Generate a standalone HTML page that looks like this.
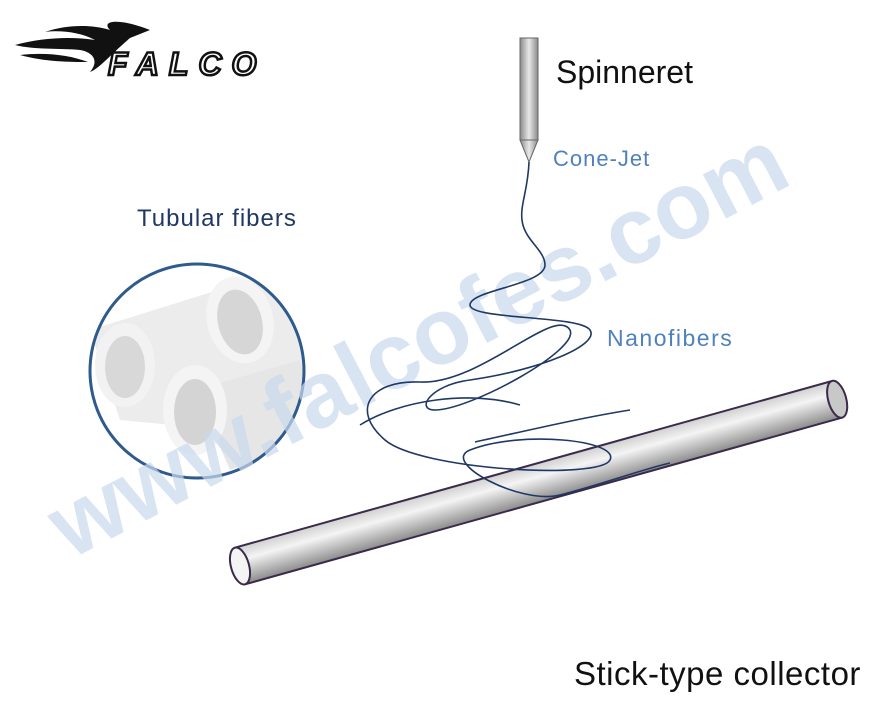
<!DOCTYPE html>
<html><head><meta charset="utf-8"><style>
html,body{margin:0;padding:0;background:#fff;}
body{width:892px;height:712px;position:relative;overflow:hidden;font-family:"Liberation Sans",sans-serif;}
div{white-space:nowrap;}
</style></head><body>
<svg width="892" height="712" viewBox="0 0 892 712" xmlns="http://www.w3.org/2000/svg" style="position:absolute;left:0;top:0">
<defs>
<linearGradient id="sp" x1="0" x2="1"><stop offset="0" stop-color="#8a8a8a"/><stop offset="0.5" stop-color="#e8e8e8"/><stop offset="1" stop-color="#8a8a8a"/></linearGradient>
<linearGradient id="cy" x1="0" y1="0" x2="0" y2="1"><stop offset="0" stop-color="#d0d0d0"/><stop offset="0.35" stop-color="#f4f4f4"/><stop offset="1" stop-color="#8c8c8c"/></linearGradient>
<clipPath id="cc"><circle cx="197" cy="371" r="107"/></clipPath>
</defs>
<!-- logo -->
<g fill="#111">
<path d="M15,45 C40,38 70,36 95,40 C80,32 60,30 45,32 C65,25 90,24 110,30 C100,20 120,18 150,30 L130,38 C110,55 100,68 90,72 C100,60 92,52 80,50 C60,48 35,50 15,45Z"/>
<path d="M20,55 C45,52 70,55 88,62 C70,62 45,62 20,55Z"/>
</g>
<text x="108" y="75" font-family="Liberation Sans" font-style="italic" font-weight="bold" font-size="32" fill="none" stroke="#111" stroke-width="2.5" letter-spacing="10">FALCO</text>
<!-- tubes circle -->
<circle cx="197" cy="371" r="107" fill="#fff"/>
<g clip-path="url(#cc)">
<path d="M90,330 L250,280 L330,300 L330,440 L120,420Z" fill="#ececec"/>
<ellipse cx="125" cy="365" rx="30" ry="42" fill="#f2f2f2"/><ellipse cx="125" cy="367" rx="20" ry="31" fill="#d8d8d8"/>
<ellipse cx="240" cy="320" rx="33" ry="44" transform="rotate(-15 240 320)" fill="#f4f4f4"/><ellipse cx="240" cy="322" rx="22" ry="33" transform="rotate(-15 240 322)" fill="#d6d6d6"/>
<path d="M195,390 L300,360 L320,440 L230,470Z" fill="#e6e6e6"/>
<ellipse cx="195" cy="410" rx="32" ry="45" fill="#f4f4f4"/><ellipse cx="195" cy="412" rx="21" ry="33" fill="#d4d4d4"/>
</g>
<circle cx="197" cy="371" r="107" fill="none" stroke="#2e5a8c" stroke-width="3"/>
<!-- watermark -->
<text x="0" y="0" transform="translate(70,560) rotate(-27.5)" font-family="Liberation Sans" font-weight="bold" font-size="94" fill="#c9d8ec" fill-opacity="0.7">www.falcofes.com</text>
<!-- collector -->
<g transform="translate(240,566) rotate(-15.6)">
<rect x="0" y="-19" width="620" height="38" fill="url(#cy)" stroke="#3b2a4a" stroke-width="2"/>
<ellipse cx="620" cy="0" rx="9" ry="19" fill="#c8c8c8" stroke="#3b2a4a" stroke-width="2"/>
<ellipse cx="0" cy="0" rx="9" ry="19" fill="#f4f4f4" stroke="#3b2a4a" stroke-width="2"/>
</g>
<!-- spinneret -->
<rect x="520" y="38" width="18" height="102" fill="url(#sp)" stroke="#666" stroke-width="1"/>
<path d="M520,140 L538,140 L529,162Z" fill="url(#sp)" stroke="#666"/>
<!-- fiber -->
<path d="M529,162 C528,190 520,205 522,220 C524,240 545,250 545,265 C545,285 470,290 470,305 C470,320 580,315 590,330 C600,345 540,370 470,380 C430,385 415,410 435,410 C470,410 580,350 570,330 C555,305 480,385 420,382 C370,380 350,410 385,440 C420,470 600,480 610,460 C620,440 520,430 470,450 C440,462 520,505 560,495 C600,485 640,470 670,463 M475,442 C530,430 580,418 630,410 M360,425 C400,400 470,390 520,405" fill="none" stroke="#1f3864" stroke-width="1.6"/>
</svg>
<div style="position:absolute;left:556px;top:54px;font-size:32px;color:#111;">Spinneret</div>
<div style="position:absolute;left:553px;top:146px;font-size:22px;letter-spacing:1px;color:#4f81bd;">Cone-Jet</div>
<div style="position:absolute;left:607px;top:325px;font-size:23px;letter-spacing:1.5px;color:#4f81bd;">Nanofibers</div>
<div style="position:absolute;left:137px;top:205px;font-size:24px;letter-spacing:1px;color:#1f3864;">Tubular fibers</div>
<div style="position:absolute;left:574px;top:655px;font-size:33px;letter-spacing:0.5px;color:#111;">Stick-type collector</div>
</body></html>
